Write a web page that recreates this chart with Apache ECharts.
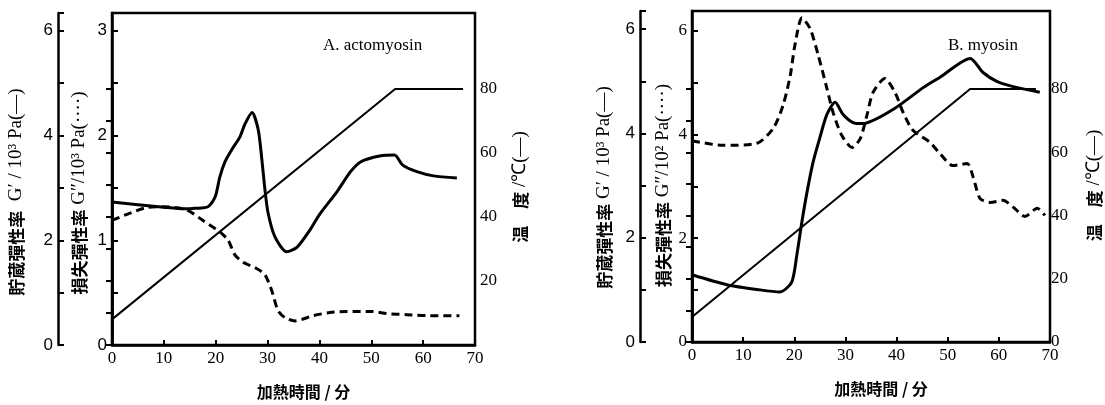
<!DOCTYPE html>
<html>
<head>
<meta charset="utf-8">
<script src="https://cdn.jsdelivr.net/npm/echarts@6/dist/echarts.min.js"></script>
<style>
  html, body { margin: 0; padding: 0; background: #fff; }
  #chart { width: 1105px; height: 405px; }
</style>
</head>
<body>
<div id="chart"></div>
<script>
// A. actomyosin
const aStorT = [0, 5, 10, 14, 16, 18.5, 19.9, 20.8, 21.8, 23.1, 24.7, 25.6, 27, 28.2, 28.9, 29.5, 30.1, 31.4, 33.7, 35.7, 38.2, 40, 43.4, 46, 48, 51.6, 54.5, 56, 58.8, 62, 66.5];
const aStor = [2.73, 2.68, 2.63, 2.6, 2.61, 2.64, 2.83, 3.21, 3.5, 3.73, 3.98, 4.21, 4.44, 4.11, 3.54, 2.96, 2.52, 2.07, 1.78, 1.87, 2.2, 2.49, 2.93, 3.31, 3.5, 3.61, 3.63, 3.44, 3.31, 3.23, 3.19];
const aLossT = [0, 3, 6.5, 10, 14.4, 17.5, 20.8, 22.4, 23.7, 25.3, 27.9, 29.5, 30.8, 32, 33.4, 35.3, 38.8, 42, 45.3, 50.3, 53, 56.8, 61.3, 67];
const aLoss = [1.19, 1.25, 1.31, 1.32, 1.29, 1.19, 1.08, 1.0, 0.86, 0.79, 0.73, 0.67, 0.52, 0.33, 0.26, 0.23, 0.28, 0.31, 0.32, 0.32, 0.3, 0.29, 0.28, 0.28];
const aTempT = [0, 54.6, 67.7];
const aTemp = [8, 80, 80];

// B. myosin
const bStorT = [0, 6.8, 13.3, 17.2, 19.5, 20.5, 21.5, 22.5, 23.7, 25, 26.4, 28, 29.5, 31.5, 33.4, 39.3, 45.2, 48.5, 54.4, 56.9, 59.6, 62.8, 68];
const bStor = [1.29, 1.1, 1.0, 0.96, 1.15, 1.67, 2.31, 2.88, 3.46, 3.92, 4.37, 4.6, 4.37, 4.21, 4.19, 4.46, 4.88, 5.08, 5.44, 5.17, 5.0, 4.9, 4.79];
const bLossT = [0, 6, 12.7, 15.9, 17.8, 19.2, 20.1, 21.5, 23.1, 24.7, 26.4, 27.6, 29.3, 31.3, 32.9, 34.2, 35.4, 37.7, 39.7, 41.3, 43.2, 46.5, 48.5, 51, 53.8, 55, 56.3, 58.3, 60.8, 62.8, 65.1, 67.5, 69];
const bLoss = [3.88, 3.79, 3.83, 4.12, 4.56, 5.13, 5.71, 6.25, 6.04, 5.52, 4.88, 4.42, 3.98, 3.75, 3.92, 4.37, 4.81, 5.08, 4.81, 4.42, 4.08, 3.85, 3.63, 3.4, 3.44, 3.17, 2.77, 2.69, 2.73, 2.6, 2.42, 2.58, 2.44];
const bTempT = [0, 55, 68];
const bTemp = [7.9, 80, 80];

const titles = ['A. actomyosin', 'B. myosin'];
const xName = '加熱時間 / 分';

const pairs = (t, v) => t.map((x, i) => [x, v[i]]);
const isInt = v => Math.abs(v - Math.round(v)) < 1e-6;

const cjk = '"Noto Sans CJK JP", sans-serif';
const serif = '"Liberation Serif", serif';
const sans = '"Liberation Sans", sans-serif';
const black = '#000';
const axisLine = { show: true, lineStyle: { color: black, width: 2.5 } };
const rich = {
  c: { fontFamily: cjk, fontSize: 17, fontWeight: 'bold', color: black },
  l: { fontFamily: serif, fontSize: 19, color: black }
};

function xAxes(grid) {
  return [
    {
      type: 'value', gridIndex: grid, min: 0, max: 70, interval: 10,
      axisLine: axisLine,
      axisTick: { inside: true, length: 5, lineStyle: { color: black, width: 2 } },
      axisLabel: { margin: 5, fontFamily: serif, fontSize: 17, color: black },
      splitLine: { show: false },
      name: xName, nameLocation: 'middle', nameGap: 39,
      nameTextStyle: { fontFamily: cjk, fontSize: 16, fontWeight: 'bold', color: black, padding: [0, 0, 0, 20] }
    },
    { type: 'value', gridIndex: grid + 1, min: 0, max: 70, show: false }
  ];
}

function leftAxis(grid, max, interval, offset, fmt, name, gap, shift, labelFont) {
  return {
    type: 'value', gridIndex: grid, position: 'left', offset: offset,
    min: 0, max: max, interval: interval,
    axisLine: axisLine,
    axisTick: { inside: true, length: 6, lineStyle: { color: black, width: 2 } },
    axisLabel: { margin: 5, fontFamily: labelFont, fontSize: 17, color: black, formatter: fmt },
    splitLine: { show: false },
    name: name, nameLocation: 'middle', nameRotate: 90, nameGap: gap,
    nameTextStyle: { rich: rich, padding: [0, shift, 0, 0] }
  };
}

function tempAxis(grid, fmt, gap) {
  return {
    type: 'value', gridIndex: grid, position: 'right',
    min: 0, max: 80, interval: 10,
    axisLine: axisLine,
    axisTick: { inside: true, length: 6, lineStyle: { color: black, width: 2 } },
    axisLabel: { margin: 5, fontFamily: serif, fontSize: 17, color: black, formatter: fmt },
    splitLine: { show: false },
    name: '{c|温　度}{l| /℃(—)}', nameLocation: 'middle', nameRotate: 90, nameGap: gap,
    nameTextStyle: { rich: rich, padding: [0, 0, 0, 60] }
  };
}

function line(xi, yi, data, width, dashed, smooth) {
  return {
    type: 'line', xAxisIndex: xi, yAxisIndex: yi, data: data,
    showSymbol: false, symbol: 'none', smooth: smooth, clip: false,
    lineStyle: { color: black, width: width, type: dashed ? [8, 5] : 'solid' },
    z: 3
  };
}

const chart = echarts.init(document.getElementById('chart'));
chart.setOption({
  backgroundColor: '#fff',
  animation: false,
  title: [
    { text: titles[0], left: 318, top: 32, textStyle: { fontFamily: serif, fontSize: 17, fontWeight: 'normal', color: black } },
    { text: titles[1], left: 943, top: 32, textStyle: { fontFamily: serif, fontSize: 17, fontWeight: 'normal', color: black } }
  ],
  grid: [
    { left: 112, right: 630, top: 13, bottom: 60, show: true, borderColor: black, borderWidth: 2.5 },
    { left: 112, right: 630, top: 89, bottom: 60 },
    { left: 692, right: 55, top: 11, bottom: 63, show: true, borderColor: black, borderWidth: 2.5 },
    { left: 692, right: 55, top: 89, bottom: 63 }
  ],
  xAxis: [...xAxes(0), ...xAxes(2)],
  yAxis: [
    leftAxis(0, 3.17, 0.5, 0, v => isInt(v) ? String(v) : '', '{c|損失彈性率}{l| G″/10³ Pa(····)}', 23, 28, sans),
    leftAxis(0, 6.34, 1, 54, v => isInt(v) && v % 2 === 0 ? String(v) : '', '{c|貯蔵彈性率}{l|  G′ / 10³ Pa(—)}', 32, 26, sans),
    tempAxis(1, v => v > 0 && v % 20 === 0 ? String(v) : '', 36),
    leftAxis(2, 6.38, 1, 0, v => isInt(v) && v % 2 === 0 ? String(v) : '', '{c|損失彈性率}{l| G″/10² Pa(····)}', 19, 18, serif),
    leftAxis(2, 6.35, 1, 52, v => isInt(v) && v % 2 === 0 ? String(v) : '', '{c|貯蔵彈性率}{l| G′ / 10³ Pa(—)}', 26, 22, sans),
    tempAxis(3, v => v % 20 === 0 ? String(v) : '', 39)
  ],
  series: [
    line(0, 1, pairs(aStorT, aStor), 3, false, 0.25),
    line(0, 0, pairs(aLossT, aLoss), 3, true, 0.25),
    line(1, 2, pairs(aTempT, aTemp), 2, false, false),
    line(2, 4, pairs(bStorT, bStor), 3, false, 0.25),
    line(2, 3, pairs(bLossT, bLoss), 3, true, 0.25),
    line(3, 5, pairs(bTempT, bTemp), 2, false, false)
  ]
});
</script>
</body>
</html>
